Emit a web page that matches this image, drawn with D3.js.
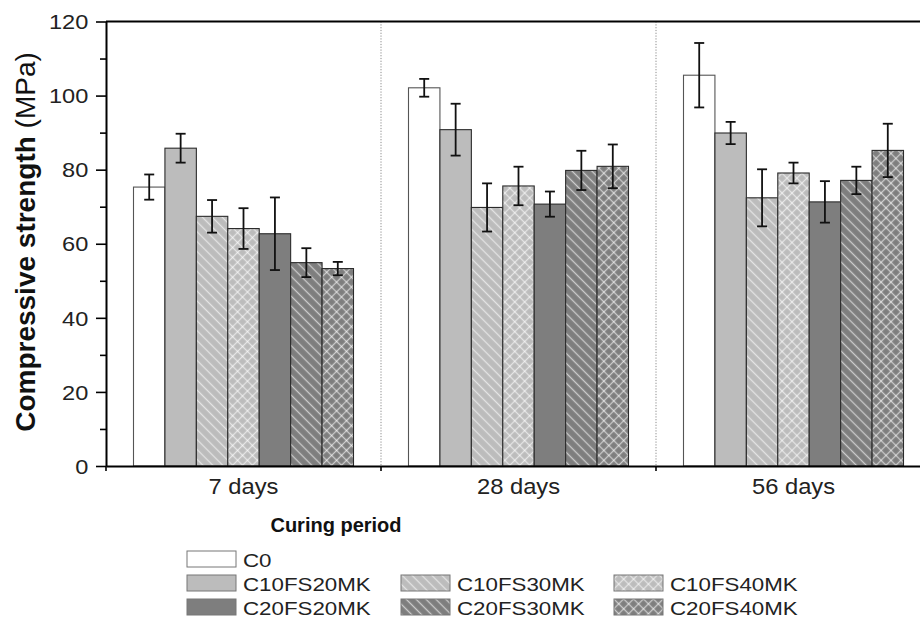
<!DOCTYPE html>
<html>
<head>
<meta charset="utf-8">
<script src="https://cdn.jsdelivr.net/npm/d3@7"></script>
<style>
html,body{margin:0;padding:0;background:#fff;}
svg{display:block;font-family:"Liberation Sans",Arial,sans-serif;}
</style>
</head>
<body>
<svg id="chart" width="920" height="625"></svg>
<script>
const periods = ["7 days", "28 days", "56 days"];
const mixes = ["C0", "C10FS20MK", "C10FS30MK", "C10FS40MK", "C20FS20MK", "C20FS30MK", "C20FS40MK"];
// mean strength per mix, ordered by period
const strengthC0        = [75.3, 102.1, 105.5];
const strengthC10FS20MK = [85.8, 90.8, 89.9];
const strengthC10FS30MK = [67.4, 69.8, 72.4];
const strengthC10FS40MK = [64.1, 75.6, 79.1];
const strengthC20FS20MK = [62.7, 70.7, 71.3];
const strengthC20FS30MK = [54.9, 79.8, 77.1];
const strengthC20FS40MK = [53.3, 80.9, 85.2];
// error (± MPa)
const errC0        = [3.4, 2.4, 8.7];
const errC10FS20MK = [3.9, 7.0, 3.0];
const errC10FS30MK = [4.4, 6.5, 7.7];
const errC10FS40MK = [5.5, 5.2, 2.8];
const errC20FS20MK = [9.8, 3.4, 5.6];
const errC20FS30MK = [3.9, 5.3, 3.7];
const errC20FS40MK = [1.8, 5.9, 7.2];
const yTicks = [0, 20, 40, 60, 80, 100, 120];
const yMinorTicks = [10, 30, 50, 70, 90, 110];

const values = [strengthC0, strengthC10FS20MK, strengthC10FS30MK, strengthC10FS40MK, strengthC20FS20MK, strengthC20FS30MK, strengthC20FS40MK];
const errors = [errC0, errC10FS20MK, errC10FS30MK, errC10FS40MK, errC20FS20MK, errC20FS30MK, errC20FS40MK];

const rows = [];
periods.forEach((p, pi) => mixes.forEach((m, mi) => rows.push({period: p, mix: m, mi, v: values[mi][pi], e: errors[mi][pi]})));

const svg = d3.select("#chart");
const defs = svg.append("defs");

const LIGHT = "#bcbcbc", DARK = "#7e7e7e";
function hatch(id, base, cross) {
  const p = defs.append("pattern").attr("id", id).attr("patternUnits", "userSpaceOnUse")
    .attr("width", 7).attr("height", 7).attr("patternTransform", "rotate(45)");
  p.append("rect").attr("width", 7).attr("height", 7).attr("fill", base);
  p.append("line").attr("x1", 0).attr("x2", 7).attr("y1", 3.5).attr("y2", 3.5)
    .attr("stroke", "#fff").attr("stroke-opacity", 0.6).attr("stroke-width", 1.3);
  if (cross) p.append("line").attr("y1", 0).attr("y2", 7).attr("x1", 3.5).attr("x2", 3.5)
    .attr("stroke", "#fff").attr("stroke-opacity", 0.6).attr("stroke-width", 1.3);
}
hatch("h1", LIGHT, false);
hatch("x1", LIGHT, true);
hatch("h2", DARK, false);
hatch("x2", DARK, true);
const fills = {"C0": "#ffffff", "C10FS20MK": LIGHT, "C10FS30MK": "url(#h1)", "C10FS40MK": "url(#x1)",
  "C20FS20MK": DARK, "C20FS30MK": "url(#h2)", "C20FS40MK": "url(#x2)"};

const mLeft = 106, mTop = 21.5, mBottom = 466, mRight = 931;
const x0 = d3.scaleBand().domain(periods).range([mLeft, mRight]).padding(0);
const x1 = d3.scaleBand().domain(mixes).range([0, x0.bandwidth()]).paddingInner(0).paddingOuter(0.875);
const y = d3.scaleLinear().domain([0, 120]).range([mBottom, mTop]);

// dotted dividers
periods.slice(1).forEach(p => {
  svg.append("line").attr("x1", x0(p)).attr("x2", x0(p)).attr("y1", mTop).attr("y2", mBottom)
    .attr("stroke", "#8a8a8a").attr("stroke-width", 1).attr("stroke-dasharray", "1.2,1.6");
});

// bars
svg.append("g").selectAll("rect").data(rows).join("rect")
  .attr("x", d => x0(d.period) + x1(d.mix))
  .attr("y", d => y(d.v))
  .attr("width", x1.bandwidth())
  .attr("height", d => y(0) - y(d.v))
  .attr("fill", d => fills[d.mix])
  .attr("stroke", d => d.mix === "C0" ? "#555" : "#2b2b2b")
  .attr("stroke-width", 1.1);

// error bars
const eg = svg.append("g").attr("stroke", "#111").attr("stroke-width", 1.8);
rows.forEach(d => {
  const cx = x0(d.period) + x1(d.mix) + x1.bandwidth() / 2;
  eg.append("line").attr("x1", cx).attr("x2", cx).attr("y1", y(d.v + d.e)).attr("y2", y(d.v - d.e));
  eg.append("line").attr("x1", cx - 5).attr("x2", cx + 5).attr("y1", y(d.v + d.e)).attr("y2", y(d.v + d.e));
  eg.append("line").attr("x1", cx - 5).attr("x2", cx + 5).attr("y1", y(d.v - d.e)).attr("y2", y(d.v - d.e));
});

// frame top
svg.append("line").attr("x1", mLeft).attr("x2", 920).attr("y1", mTop).attr("y2", mTop)
  .attr("stroke", "#000").attr("stroke-width", 2);

// y axis major
const yAxis = svg.append("g").attr("transform", `translate(${mLeft},0)`)
  .call(d3.axisLeft(y).tickValues(yTicks).tickSize(10).tickSizeOuter(0).tickFormat(d3.format("d")));
yAxis.select(".domain").attr("stroke", "#000").attr("stroke-width", 2);
yAxis.selectAll(".tick line").attr("stroke", "#000").attr("stroke-width", 1.6);
yAxis.selectAll(".tick text").attr("x", -15).attr("dy", "0.36em")
  .attr("transform", "scale(1.18,1)").attr("font-size", 20).attr("fill", "#222")
  .style("font-family", "'Liberation Sans', Arial, sans-serif");
// y axis minor
svg.append("g").attr("transform", `translate(${mLeft},0)`)
  .call(d3.axisLeft(y).tickValues(yMinorTicks).tickSize(6).tickFormat(""))
  .call(g => g.select(".domain").remove())
  .selectAll(".tick line").attr("stroke", "#000").attr("stroke-width", 1.6);

// x axis
const xAxis = svg.append("g").attr("transform", `translate(0,${mBottom})`)
  .call(d3.axisBottom(x0).tickSize(0).tickSizeOuter(0));
xAxis.select(".domain").attr("stroke", "#000").attr("stroke-width", 2);
xAxis.selectAll(".tick text").attr("y", 0).attr("dy", 0)
  .attr("transform", "translate(0,28) scale(1.08,1)").attr("font-size", 22).attr("fill", "#222")
  .style("font-family", "'Liberation Sans', Arial, sans-serif");
// boundary ticks
periods.forEach(p => {
  svg.append("line").attr("x1", x0(p)).attr("x2", x0(p)).attr("y1", mBottom).attr("y2", mBottom + 5)
    .attr("stroke", "#000").attr("stroke-width", 1.6);
});

// axis titles
svg.append("text").attr("x", 336).attr("y", 532).attr("text-anchor", "middle")
  .attr("font-size", 20).attr("font-weight", "bold").attr("fill", "#111").text("Curing period");
const yt = svg.append("text").attr("transform", "translate(35,242) rotate(-90)")
  .attr("text-anchor", "middle").attr("font-size", 28).attr("fill", "#111");
yt.append("tspan").attr("font-weight", "bold").text("Compressive strength ");
yt.append("tspan").text("(MPa)");

// legend
const legendPos = [[0, 0], [0, 1], [1, 1], [2, 1], [0, 2], [1, 2], [2, 2]];
const colX = [187, 401, 614], rowY = [551, 575, 599];
const lg = svg.append("g");
mixes.forEach((m, i) => {
  const [c, r] = legendPos[i];
  lg.append("rect").attr("x", colX[c]).attr("y", rowY[r]).attr("width", 49).attr("height", 16)
    .attr("fill", fills[m]).attr("stroke", "#777").attr("stroke-width", 1);
  lg.append("text").attr("transform", `translate(${colX[c] + 56},${rowY[r] + 16}) scale(1.2,1)`)
    .attr("font-size", 18.6).attr("fill", "#222").text(m);
});
</script>
</body>
</html>
